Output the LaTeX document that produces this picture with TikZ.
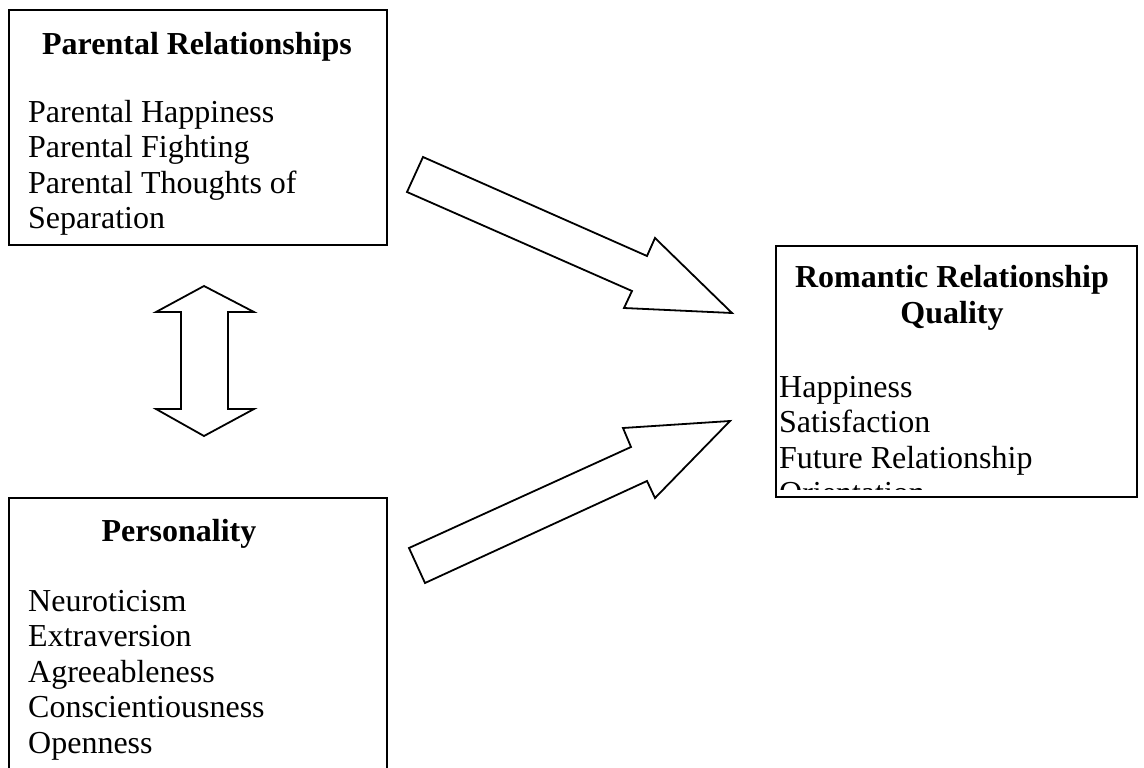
\documentclass[tikz,border=0pt]{standalone}
\usepackage{fontspec}
\setmainfont{Liberation Serif}
\usepackage{tikz}

\begin{document}
\begin{tikzpicture}[x=1pt,y=-1pt,
    every node/.style={font=\fontsize{32}{37}\selectfont, inner sep=0pt},
    box/.style={draw, line width=1.8pt, anchor=north west},
    head/.style={font=\fontsize{32}{37}\selectfont\bfseries, anchor=base},
    item/.style={anchor=base west},
    fat/.style={draw, line width=1.8pt, line join=miter, fill=white}]
    \useasboundingbox (0,0) rectangle (1144,768);
    % Boxes
    \node[box, minimum width=378pt, minimum height=235pt] (parents) at (8,9) {};
    \node[box, minimum width=378pt, minimum height=300pt] (person) at (8,497) {};
    \node[box, minimum width=361pt, minimum height=251pt] (romance) at (775,245) {};
    % Parental relationships
    \begin{scope}
        \clip (parents.north west) rectangle ([yshift=8pt]parents.south east);
        \node[head] (parentsT) at (197,55) {Parental Relationships};
        \foreach \t [count=\i from 0] in {Parental Happiness, Parental Fighting,
            Parental Thoughts of, Separation}
            \node[item] (parents\i) at (28,122+35.5*\i) {\t};
    \end{scope}
    % Personality
    \node[head] (personT) at (179,541) {Personality};
    \foreach \t [count=\i from 0] in {Neuroticism, Extraversion, Agreeableness,
        Conscientiousness, Openness}
        \node[item] (person\i) at (28,611+35.5*\i) {\t};
    % Romantic relationship quality
    \begin{scope}
        \clip (romance.north west) rectangle ([yshift=8pt]romance.south east);
        \node[head] (romanceT) at (952,287) {Romantic Relationship};
        \node[head] (romanceQ) at (952,323) {Quality};
        \foreach \t [count=\i from 0] in {Happiness, Satisfaction,
            Future Relationship, Orientation}
            \node[item] (romance\i) at (779,397+35.5*\i) {\t};
    \end{scope}
    % Block arrows
    \draw[fat] (423,157) -- (647,256) -- (655,238) -- (732,313) -- (624,308)
        -- (632,291) -- (407,192) -- cycle;
    \draw[fat] (409,548) -- (631,447) -- (623,428) -- (730,421) -- (655,498)
        -- (647,481) -- (425,583) -- cycle;
    \draw[fat] (204,286) -- (254,312) -- (228,312) -- (228,409) -- (254,409)
        -- (204,436) -- (156,409) -- (181,409) -- (181,312) -- (156,312) -- cycle;
\end{tikzpicture}
\end{document}
